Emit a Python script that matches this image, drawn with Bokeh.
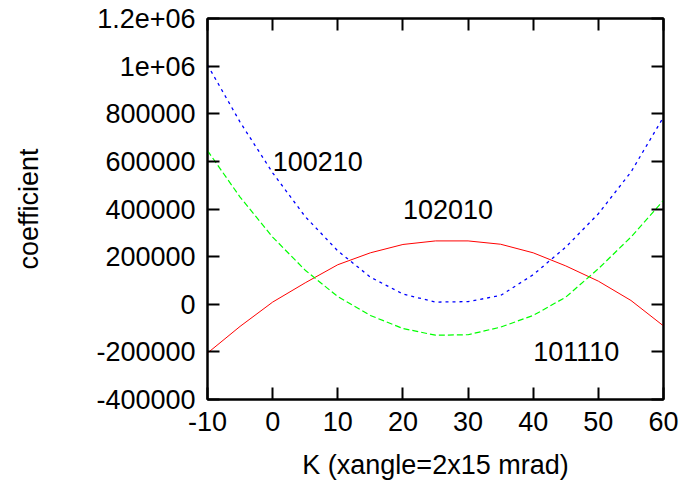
from bokeh.plotting import figure
from bokeh.models import LinearAxis, FixedTicker, Range1d, CustomJSTickFormatter, ColumnDataSource
from bokeh.core.properties import value
from bokeh.embed import file_html
from bokeh.resources import INLINE

# ---- data ----
k = [-10, -5, 0, 5, 10, 15, 20, 25, 30, 35, 40, 45, 50, 55, 60]
c102010 = [-205000, -93000, 9000, 90000, 166000, 216000, 251000, 266000,
           266000, 252000, 216000, 161000, 97000, 16000, -91000]
c100210 = [1005000, 765000, 552000, 368000, 224000, 114000, 43000, 9000,
           11000, 37000, 124000, 240000, 380000, 555000, 786000]
c101110 = [645000, 450000, 282000, 143000, 32000, -47000, -102000, -130000,
           -128000, -96000, -47000, 30000, 149000, 282000, 436000]

label_x = [0, 20, 40]
label_y = [600000, 400000, -200000]
label_text = ["100210", "102010", "101110"]

x_ticks = [-10, 0, 10, 20, 30, 40, 50, 60]
x_tick_labels = ["-10", "0", "10", "20", "30", "40", "50", "60"]
y_ticks = [-400000, -200000, 0, 200000, 400000, 600000, 800000, 1000000, 1200000]
y_tick_labels = ["-400000", "-200000", "0", "200000", "400000", "600000",
                 "800000", "1e+06", "1.2e+06"]

FONT = "Liberation Sans"
FS = "27px"

p = figure(width=688, height=485, output_backend="svg", toolbar_location=None,
           x_range=Range1d(-10, 60), y_range=Range1d(-400000, 1200000),
           min_border_left=207, min_border_right=25, min_border_top=18,
           min_border_bottom=86, x_axis_label="K (xangle=2x15 mrad)",
           y_axis_label="coefficient")
p.xgrid.visible = False
p.ygrid.visible = False
p.outline_line_color = "black"
p.outline_line_width = 2
p.background_fill_color = "white"
p.border_fill_color = "white"

def style(ax):
    ax.major_tick_in = 12
    ax.major_tick_out = 0
    ax.minor_tick_in = 0
    ax.minor_tick_out = 0
    ax.axis_line_width = 2
    ax.major_tick_line_width = 2
    ax.axis_line_color = "black"
    ax.major_tick_line_color = "black"
    ax.major_label_text_font = FONT
    ax.major_label_text_font_size = FS
    ax.major_label_text_color = "black"
    ax.major_label_standoff = 12
    ax.axis_label_text_font = FONT
    ax.axis_label_text_font_size = FS
    ax.axis_label_text_font_style = "normal"
    ax.axis_label_text_color = "black"

xa = p.xaxis[0]
ya = p.yaxis[0]
style(xa)
style(ya)
xa.ticker = FixedTicker(ticks=x_ticks)
ya.ticker = FixedTicker(ticks=y_ticks)
xa.major_label_overrides = {t: s for t, s in zip(x_ticks, x_tick_labels)}
ya.major_label_overrides = {t: s for t, s in zip(y_ticks, y_tick_labels)}
ya.axis_label_standoff = 49
xa.axis_label_standoff = 16

blank = CustomJSTickFormatter(code="return ''")
top = LinearAxis(ticker=FixedTicker(ticks=x_ticks), formatter=blank)
right = LinearAxis(ticker=FixedTicker(ticks=y_ticks), formatter=blank)
style(top)
style(right)
top.major_label_standoff = 0
right.major_label_standoff = 0
p.add_layout(top, "above")
p.add_layout(right, "right")

src = ColumnDataSource(dict(k=k, a=c102010, b=c100210, c=c101110))
p.line("k", "a", source=src, line_color="#ff0000", line_width=1)
p.line("k", "c", source=src, line_color="#00ff00", line_width=1.2, line_dash="6 3")
p.line("k", "b", source=src, line_color="#0000ff", line_width=1.3, line_dash="3 4")

lsrc = ColumnDataSource(dict(x=label_x, y=label_y, t=label_text))
p.text("x", "y", text="t", source=lsrc, text_font=value(FONT),
       text_font_size=FS, text_align="left", text_baseline="middle",
       text_color="black")

open("out.html", "w").write(file_html(p, INLINE))
